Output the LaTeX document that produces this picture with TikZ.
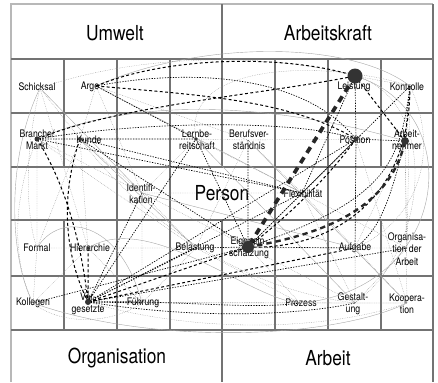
\documentclass[tikz,border=0pt]{standalone}
\usepackage{fontspec}
\setmainfont{TeX Gyre Heros}[FakeStretch=0.84]
\tikzset{
  grid line/.style={draw=black!55,line width=1.1pt},
  frame line/.style={draw=black!28,line width=0.8pt},
  term/.style={font=\fontsize{7.8}{9.2}\selectfont,align=center,inner sep=0pt},
  area/.style={font=\fontsize{15.5}{17}\selectfont,inner sep=0pt},
  faint/.style={draw=black!45,line width=0.25pt,dash pattern=on 0.5pt off 0.8pt},
  thin link/.style={draw=black!35,line width=0.3pt},
  link/.style={draw=black,line width=0.5pt,dash pattern=on 1pt off 1pt},
  dash link/.style={draw=black,line width=0.75pt,dash pattern=on 2.2pt off 1.8pt},
  strong link/.style={draw=black!85,line width=1.8pt,dash pattern=on 4pt off 3pt},
  top link/.style={draw=black!85,line width=2.8pt,dash pattern=on 5pt off 4pt},
  hub/.style={fill=black!80}
}
\begin{document}
\begin{tikzpicture}[x=0.75pt,y=-0.75pt]
  \useasboundingbox (0,0) rectangle (438,382);
  \draw [frame line] (11,382) -- (11,4) -- (433,4);
  \draw [grid line] (433,4) -- (433,382);
  \draw [grid line] (11,59) -- (433,59) (11,113) -- (433,113) (11,167) -- (433,167)
    (11,220) -- (433,220) (11,276) -- (433,276) (11,330) -- (433,330);
  \draw [grid line] (222,4) -- (222,167) (222,220) -- (222,382);
  \draw [grid line] (117,59) -- (117,330) (170,59) -- (170,330) (275,59) -- (275,330) (328,59) -- (328,330);
  \draw [grid line] (64,59) -- (64,167) (64,220) -- (64,330) (381,59) -- (381,167) (381,220) -- (381,330);
  \node [area] (umwelt) at (115,33) {Umwelt};
  \node [area] (arbeitskraft) at (328,33) {Arbeitskraft};
  \node [area] (organisation) at (117,358) {Organisation};
  \node [area] (arbeit) at (328,358) {Arbeit};
  \node [area] (person) at (222,193) {Person};
  \node [term] (tschick) at (37,87) {Schicksal};
  \node [term] (targe) at (90,87) {Arge};
  \node [term] (tleist) at (354,87) {Leistung};
  \node [term] (tkontr) at (407,87) {Kontrolle};
  \node [term] (tbranche) at (37,140) {Branche/\\Markt};
  \node [term] (tkunde) at (89,140) {Kunde};
  \node [term] (tlern) at (197,140) {Lernbe-\\reitschaft};
  \node [term] (tberuf) at (249,140) {Berufsver-\\ständnis};
  \node [term] (tposit) at (355,140) {Position};
  \node [term] (tarbn) at (407,140) {Arbeit-\\nehmer};
  \node [term] (tident) at (141,194) {Identifi-\\kation};
  \node [term] (tflex) at (303,194) {Flexibilität};
  \node [term] (tformal) at (37,248) {Formal};
  \node [term] (thier) at (90,248) {Hierarchie};
  \node [term] (tbelast) at (195,248) {Belastung};
  \node [term] (teigen) at (249,248) {Eigenein-\\schätzung};
  \node [term] (taufg) at (355,248) {Aufgabe};
  \node [term] (torga) at (407,249) {Organisa-\\tion der\\Arbeit};
  \node [term] (tkoll) at (33,303) {Kollegen};
  \node [term] (tvorg) at (88,304) {Vor-\\gesetzte};
  \node [term] (tfuehr) at (143,303) {Führung};
  \node [term] (tproz) at (301,303) {Prozess};
  \node [term] (tgest) at (353,304) {Gestalt-\\ung};
  \node [term] (tkoop) at (407,304) {Koopera-\\tion};
  \coordinate (schick) at (40,88);
  \coordinate (arge) at (96,86);
  \coordinate (leist) at (355,76);
  \coordinate (kontr) at (410,86);
  \coordinate (branche) at (37,139);
  \coordinate (kunde) at (80,139);
  \coordinate (lern) at (196,139);
  \coordinate (beruf) at (248,140);
  \coordinate (posit) at (356,139);
  \coordinate (arbn) at (405,141);
  \coordinate (ident) at (142,193);
  \coordinate (flex) at (302,193);
  \coordinate (formal) at (37,248);
  \coordinate (hier) at (88,248);
  \coordinate (belast) at (196,248);
  \coordinate (eigen) at (248,247);
  \coordinate (aufg) at (355,248);
  \coordinate (orga) at (407,248);
  \coordinate (koll) at (33,303);
  \coordinate (vorg) at (88,302);
  \coordinate (fuehr) at (142,303);
  \coordinate (proz) at (300,303);
  \coordinate (gest) at (355,303);
  \coordinate (koop) at (407,303);
  \draw [thin link] (schick) .. controls (5,160) and (10,260) .. (koll)
    (leist) .. controls (470,110) and (450,290) .. (proz)
    (arge) .. controls (200,40) and (350,40) .. (kontr)
    (branche) .. controls (150,90) and (300,110) .. (arbn)
    (koll) .. controls (150,345) and (330,340) .. (koop)
    (hier) .. controls (150,210) and (250,300) .. (proz)
    (kunde) -- (belast) (schick) -- (ident) (arge) -- (flex)
    (ident) -- (aufg) (lern) -- (gest) (beruf) -- (koop)
    (formal) .. controls (60,210) and (120,220) .. (fuehr);
  \draw [faint] (schick) -- (kunde) (schick) -- (hier) (schick) .. controls (150,50) and (280,55) .. (leist)
    (arge) -- (kunde) (arge) -- (ident) (arge) -- (beruf) (branche) .. controls (12,200) and (12,260) .. (koll)
    (branche) -- (formal) (branche) -- (ident) (branche) -- (belast) (kunde) -- (formal) (kunde) -- (hier)
    (kunde) -- (ident) (kunde) -- (lern) (lern) -- (beruf) (lern) -- (ident) (lern) -- (flex)
    (beruf) -- (flex) (beruf) -- (posit) (beruf) -- (belast) (ident) -- (belast) (ident) -- (flex)
    (ident) -- (fuehr) (ident) -- (eigen) (flex) -- (aufg) (flex) -- (posit) (flex) -- (gest) (flex) -- (orga)
    (posit) -- (gest) (posit) -- (koop) (arbn) -- (orga) (arbn) -- (koop) (arbn) -- (aufg)
    (kontr) .. controls (440,150) and (420,220) .. (aufg) (kontr) -- (orga) (leist) -- (kontr)
    (leist) .. controls (440,100) and (430,250) .. (gest) (formal) -- (koll) (formal) -- (hier)
    (hier) -- (koll) (hier) -- (fuehr) (hier) -- (belast) (koll) .. controls (60,325) and (110,325) .. (fuehr)
    (vorg) .. controls (200,335) and (330,330) .. (koop) (vorg) -- (gest) (fuehr) -- (proz)
    (fuehr) -- (belast) (belast) -- (proz) (belast) -- (aufg) (eigen) -- (proz) (eigen) -- (gest)
    (aufg) -- (gest) (aufg) -- (koop) (aufg) -- (orga) (proz) -- (gest) (proz) -- (koop)
    (gest) -- (koop) (orga) -- (gest) (schick) .. controls (20,170) and (30,230) .. (formal)
    (lern) .. controls (180,60) and (330,60) .. (kontr) (kunde) .. controls (150,230) and (250,290) .. (gest);
  \draw [link] (arge) .. controls (180,70) and (300,70) .. (posit) (arge) -- (lern)
    (branche) -- (lern) (branche) .. controls (150,120) and (300,120) .. (posit) (branche) -- (flex)
    (kunde) -- (eigen) (kunde) -- (flex) (koll) -- (eigen) (vorg) -- (fuehr) (vorg) -- (belast)
    (vorg) -- (flex) (vorg) -- (orga) (vorg) -- (posit) (vorg) -- (ident) (vorg) -- (lern)
    (vorg) .. controls (180,300) and (250,310) .. (proz) (vorg) .. controls (200,320) and (300,315) .. (gest)
    (leist) -- (posit) (posit) -- (arbn) (kontr) -- (arbn) (kontr) -- (eigen) (leist) -- (flex)
    (lern) -- (eigen) (posit) -- (flex) (eigen) -- (aufg) (eigen) -- (belast) (eigen) -- (flex)
    (posit) -- (aufg) (arbn) .. controls (390,200) and (380,230) .. (aufg) (beruf) -- (eigen)
    (kontr) .. controls (400,160) and (390,200) .. (eigen);
  \draw [dash link] (leist) -- (arbn) (posit) .. controls (330,175) and (290,215) .. (eigen)
    (arge) .. controls (170,55) and (290,55) .. (leist) (arge) .. controls (200,95) and (290,100) .. (posit)
    (kunde) .. controls (62,190) and (62,250) .. (vorg) (branche) .. controls (60,175) and (80,230) .. (vorg)
    (hier) -- (vorg) (vorg) -- (eigen) (vorg) -- (aufg) (branche) .. controls (120,105) and (260,95) .. (leist)
    (eigen) .. controls (320,250) and (410,210) .. (kontr);
  \draw [strong link] (eigen) .. controls (320,235) and (390,210) .. (arbn);
  \draw [top link] (leist) -- (eigen);
  \fill [hub] (leist) circle (7.5) (eigen) circle (6) (arbn) circle (4) (posit) circle (2.5)
    (branche) circle (2.5) (vorg) circle (3) (kunde) circle (2) (lern) circle (1.8) (hier) circle (1.8);
\end{tikzpicture}
\end{document}
